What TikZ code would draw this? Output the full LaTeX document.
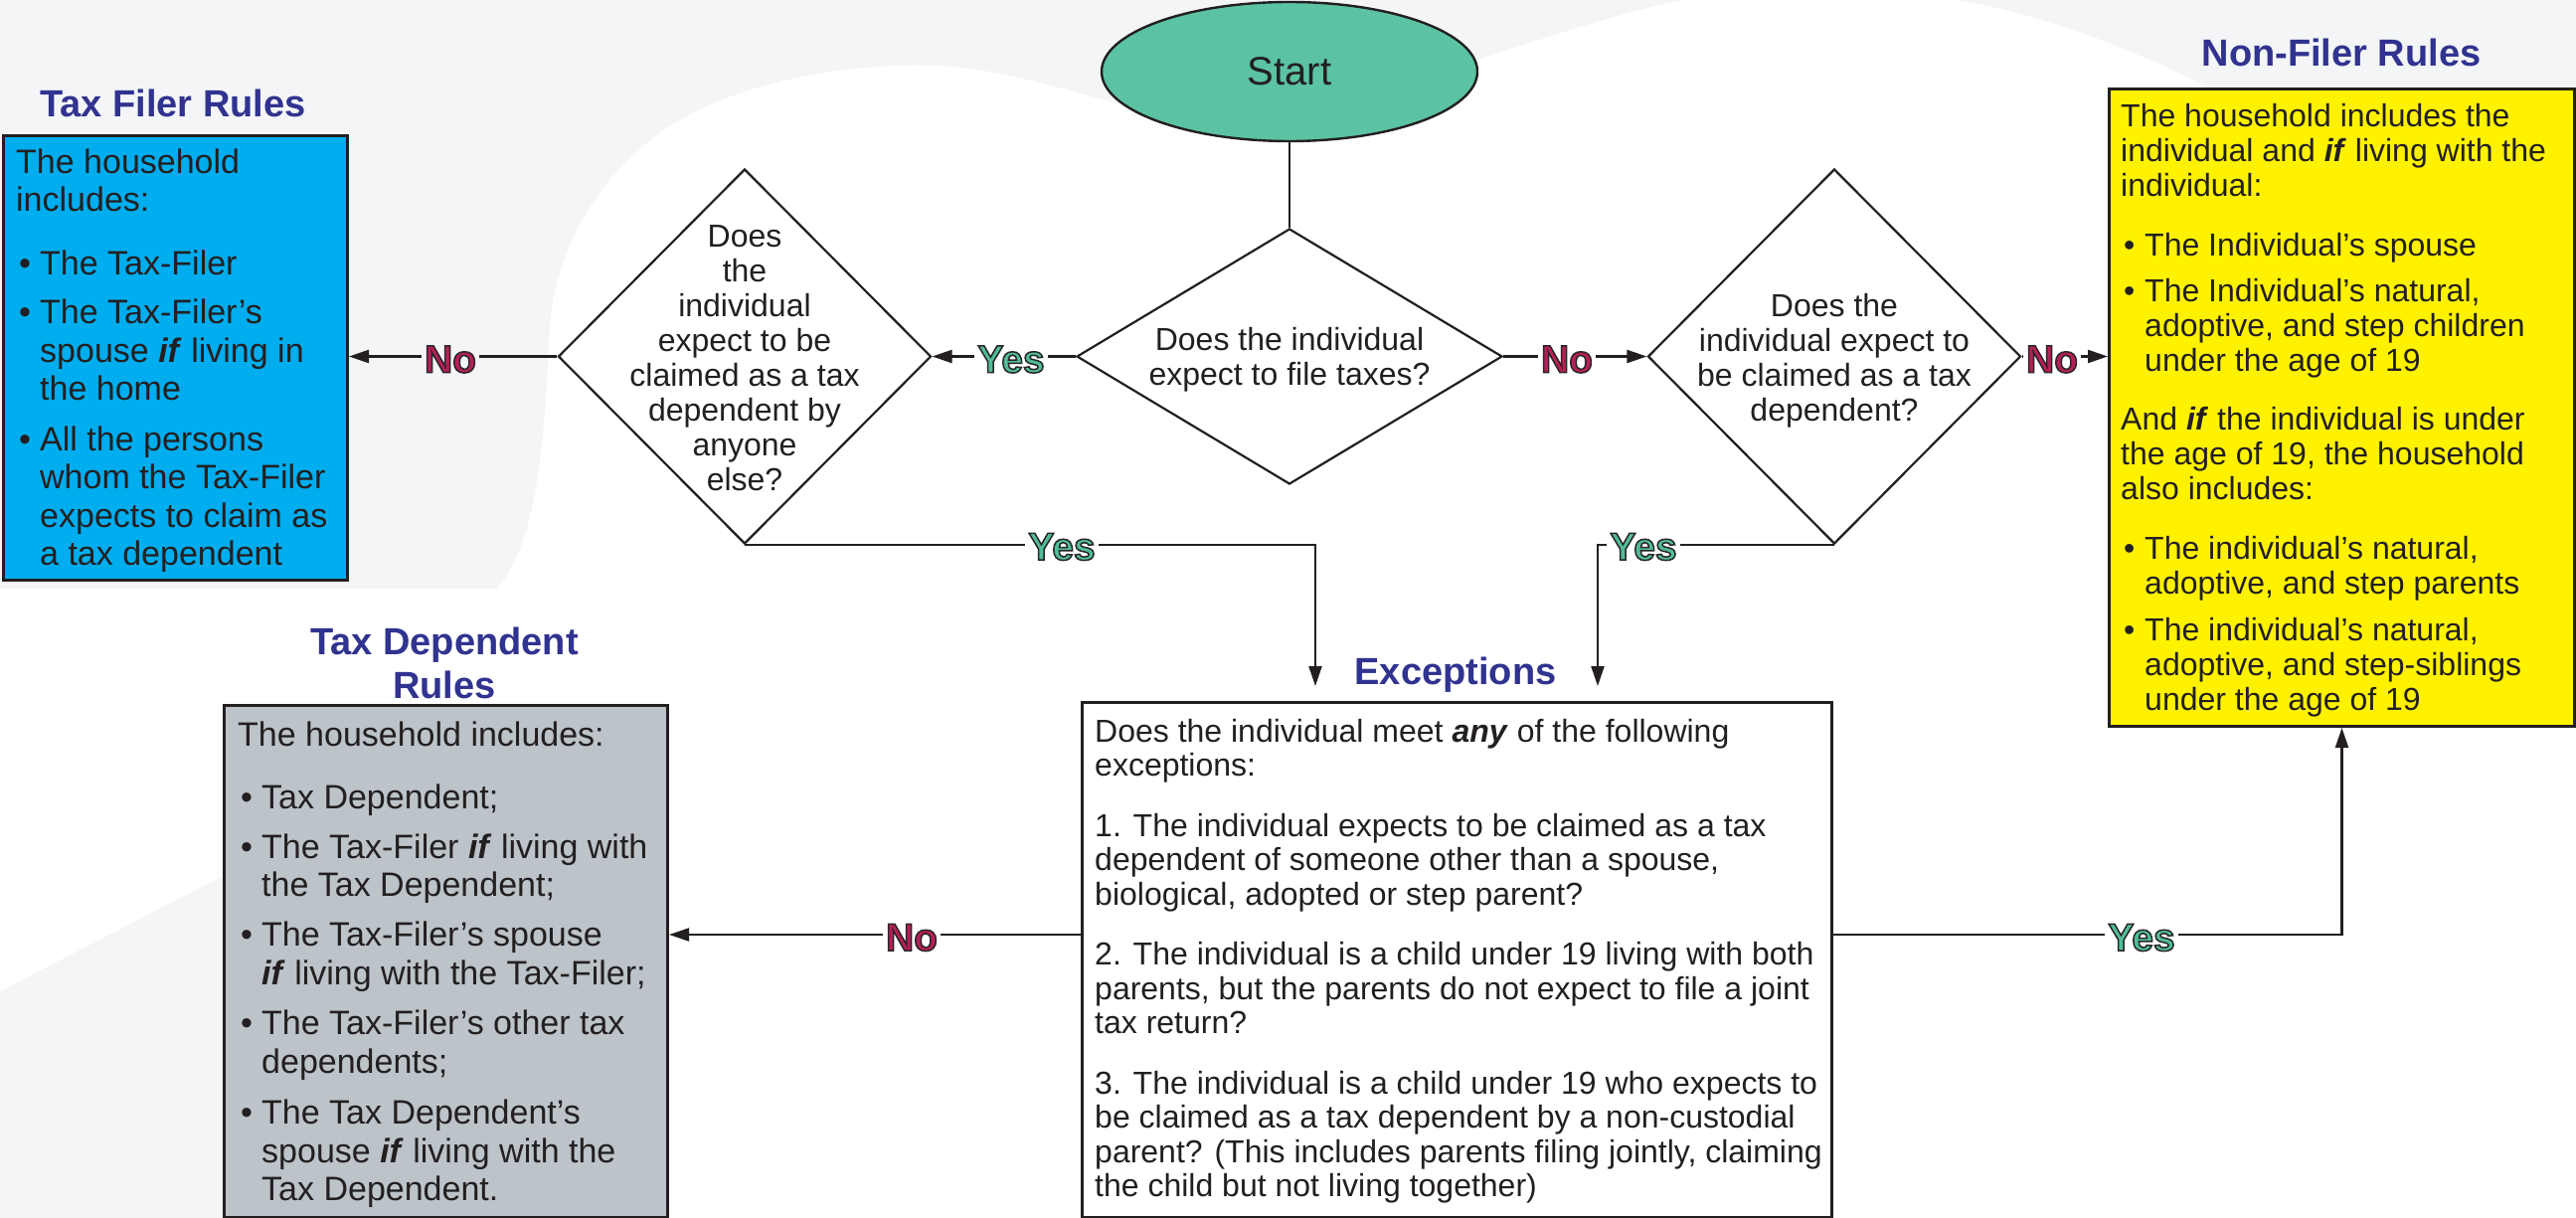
\documentclass[tikz,border=0pt]{standalone}
\usepackage{fontspec}
\setmainfont{Liberation Sans}
\usetikzlibrary{arrows.meta,shapes.geometric}
\definecolor{bggrey}{HTML}{F4F5F7}
\definecolor{linec}{HTML}{231F20}
\definecolor{titleblue}{HTML}{30338F}
\definecolor{filercyan}{HTML}{00ADEE}
\definecolor{nonyellow}{HTML}{FFF200}
\definecolor{depgrey}{HTML}{BCC3C9}
\definecolor{startgreen}{HTML}{5BC3A4}
\definecolor{yesgreen}{HTML}{50BC9B}
\definecolor{nored}{HTML}{B51F58}
\newcommand{\bul}{\makebox[24pt][l]{\hspace{3pt}\textbullet}}
\newcommand{\ind}{\hspace*{24pt}}
\newcommand{\bi}[1]{\textbf{\textit{#1}}}
\newcommand{\outl}[1]{\special{pdf:literal direct 0.16 0.15 0.15 RG 1.5 w 2 Tr}#1\special{pdf:literal direct 0 Tr}}
\tikzset{
  rulebox/.style={draw=linec, line width=3pt, inner sep=0pt, anchor=north west},
  dia/.style={diamond, draw=linec, fill=white, line width=2.2pt, inner sep=0pt},
  bigtext/.style={font=\fontsize{34}{38.5}\selectfont, text=linec, align=left, inner sep=0pt, anchor=north west},
  smalltext/.style={font=\fontsize{32}{34.5}\selectfont, text=linec, align=left, inner sep=0pt, anchor=north west},
  diatext/.style={font=\fontsize{32}{35}\selectfont, text=linec, align=center, inner sep=0pt, anchor=north},
  ruletitle/.style={font=\fontsize{38}{44}\selectfont\bfseries, text=titleblue, inner sep=0pt},
  conn/.style={draw=linec, line width=2.2pt},
  arr/.style={conn, -{Triangle[length=20pt,width=13pt]}},
  nolab/.style={font=\fontsize{39}{40}\selectfont\bfseries, text=nored, fill=white, inner xsep=3pt, inner ysep=0pt},
  yeslab/.style={font=\fontsize{39}{40}\selectfont\bfseries, text=yesgreen, fill=white, inner xsep=3pt, inner ysep=0pt},
}
\begin{document}
\begin{tikzpicture}[x=1pt,y=-1pt]
\useasboundingbox (0,0) rectangle (2591,1225);
% background
\fill[bggrey] (0,0) rectangle (2591,1225);
\fill[white] (0,592) -- (500,592)
  .. controls (545,540) and (548,420) .. (553,330)
  .. controls (558,240) and (620,140) .. (727,100)
  .. controls (800,72) and (880,64) .. (940,66)
  .. controls (1020,70) and (1080,95) .. (1150,110)
  -- (1470,65)
  .. controls (1550,40) and (1620,15) .. (1693,0)
  -- (1966,0)
  .. controls (2040,10) and (2150,50) .. (2220,88)
  -- (2591,88) -- (2591,1225) -- (224,1225) -- (224,881)
  -- (0,997) -- cycle;

% boxes
\node[rulebox, fill=filercyan, minimum width=346, minimum height=447] (tf) at (2,135) {};
\node[rulebox, fill=nonyellow, minimum width=468, minimum height=641] (nf) at (2120,88) {};
\node[rulebox, fill=depgrey, minimum width=446, minimum height=515] (tdp) at (224,708) {};
\node[rulebox, fill=white, minimum width=754, minimum height=518] (exc) at (1087,705) {};

% start and decisions
\node[ellipse, draw=linec, line width=2.4pt, fill=startgreen, minimum width=378, minimum height=140, inner sep=0pt,
      font=\fontsize{40}{44}\selectfont, text=linec] (start) at (1297,72) {Start};
\node[dia, minimum width=428, minimum height=257] (d1) at (1297,358.5) {};
\node[dia, minimum width=375, minimum height=377] (d2) at (749,358.5) {};
\node[dia, minimum width=375, minimum height=377] (d3) at (1845,358.5) {};

% titles
\node[ruletitle, anchor=base] (tftitle) at (174,118) {Tax Filer Rules};
\node[ruletitle, anchor=north, align=center] (tdtitle) at (447,627.2) {\strut Tax Dependent\\Rules};
\node[ruletitle, anchor=base] (nftitle) at (2355,67) {Non-Filer Rules};
\node[ruletitle, anchor=base] (extitle) at (1464,688) {Exceptions};

% texts
\node[bigtext] (tftext) at (16,147.05) {\strut The household\\
includes:\\[25.5pt]
\bul The Tax-Filer\\[10.5pt]
\bul The Tax-Filer’s\\
\ind spouse \bi{if} living in\\
\ind the home\\[12pt]
\bul All the persons\\
\ind whom the Tax-Filer\\
\ind expects to claim as\\
\ind a tax dependent};

\node[bigtext] (tdtext) at (239,723.05) {\strut The household includes:\\[24.5pt]
\bul Tax Dependent;\\[11.5pt]
\bul The Tax-Filer \bi{if} living with\\
\ind the Tax Dependent;\\[11.5pt]
\bul The Tax-Filer’s spouse\\
\ind\bi{if} living with the Tax-Filer;\\[12pt]
\bul The Tax-Filer’s other tax\\
\ind dependents;\\[13pt]
\bul The Tax Dependent’s\\
\ind spouse \bi{if} living with the\\
\ind Tax Dependent.};

\node[smalltext, font=\fontsize{32}{35}\selectfont] (nftext) at (2133,102.5) {\strut The household includes the\\
individual and \bi{if} living with the\\
individual:\\[25pt]
\bul The Individual’s spouse\\[11pt]
\bul The Individual’s natural,\\
\ind adoptive, and step children\\
\ind under the age of 19\\[24pt]
And \bi{if} the individual is under\\
the age of 19, the household\\
also includes:\\[25pt]
\bul The individual’s natural,\\
\ind adoptive, and step parents\\[12pt]
\bul The individual’s natural,\\
\ind adoptive, and step-siblings\\
\ind under the age of 19};

\node[smalltext] (extext) at (1101,721.85) {\strut Does the individual meet \bi{any} of the following\\
exceptions:\\[26pt]
1. The individual expects to be claimed as a tax\\
dependent of someone other than a spouse,\\
biological, adopted or step parent?\\[26pt]
2. The individual is a child under 19 living with both\\
parents, but the parents do not expect to file a joint\\
tax return?\\[26pt]
3. The individual is a child under 19 who expects to\\
be claimed as a tax dependent by a non-custodial\\
parent? (This includes parents filing jointly, claiming\\
the child but not living together)};

\node[diatext] (d1text) at (1297,327.5) {\strut Does the individual\\expect to file taxes?};
\node[diatext] (d2text) at (749,223.5) {\strut Does\\the\\individual\\expect to be\\claimed as a tax\\dependent by\\anyone\\else?};
\node[diatext] (d3text) at (1845,293.5) {\strut Does the\\individual expect to\\be claimed as a tax\\dependent?};

% connectors
\coordinate (e1) at (1323,690);
\coordinate (e2) at (1607,690);
\draw[conn] (start.south) -- (d1.north);
\draw[arr] (d1.west) -- (d2.east);
\draw[arr] (d1.east) -- (d3.west);
\draw[arr] (d3.east) -- (d3.east -| nf.west);
\draw[arr] (d2.west) -- (d2.west -| tf.east);
\draw[arr] (d2.south) -| (e1);
\draw[arr] (d3.south) -| (e2);
\draw[arr] (exc.west |- 0,940) -- (tdp.east |- 0,940);
\draw[arr] (exc.east |- 0,940) -| (nf.south);

% labels
\node[nolab, fill=bggrey] (lno1) at (453,361.5) {\outl{No}};
\node[yeslab] (lyes1) at (1017,361.5) {\outl{Yes}};
\node[nolab] (lno2) at (1576,361.5) {\outl{No}};
\node[nolab] (lno3) at (2064,361.5) {\outl{No}};
\node[yeslab] (lyes2) at (1068,550) {\outl{Yes}};
\node[yeslab] (lyes3) at (1653,550) {\outl{Yes}};
\node[nolab] (lno4) at (917,943) {\outl{No}};
\node[yeslab] (lyes4) at (2154,943) {\outl{Yes}};
\end{tikzpicture}
\end{document}
